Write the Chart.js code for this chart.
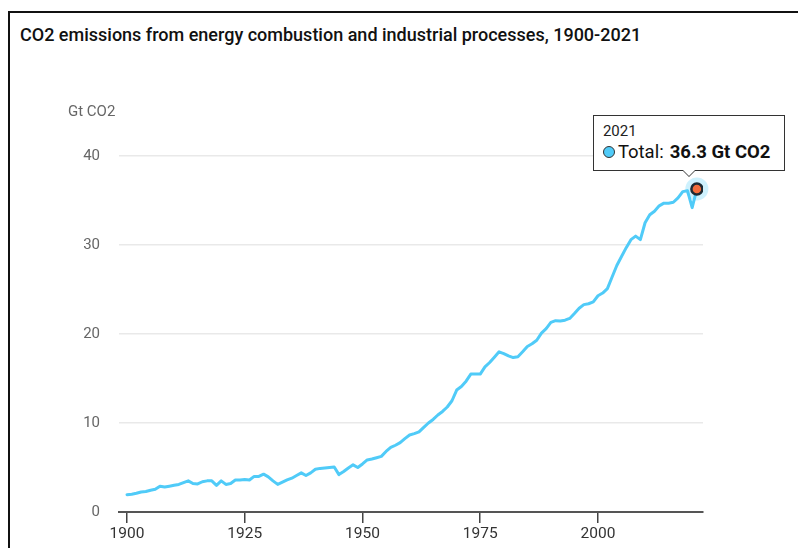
<!DOCTYPE html>
<html>
<head>
<meta charset="utf-8">
<script src="https://cdn.jsdelivr.net/npm/chart.js@4/dist/chart.umd.min.js"></script>
<style>
  html, body { margin: 0; padding: 0; background: #fff; }
  body { width: 798px; height: 548px; position: relative; overflow: hidden; font-family: Roboto, "Noto Sans", sans-serif; }
  #frame { position: absolute; left: 8px; top: 11px; width: 900px; height: 700px; border: 2px solid #111; box-sizing: border-box; }
  #title { position: absolute; left: 20px; top: 24px; font-size: 18px; font-weight: 500; color: #111; white-space: nowrap; }
  #chart { position: absolute; left: 0; top: 0; }
  #tip { position: absolute; display: none; background: #fff; border: 1px solid #333; padding: 6px 14px 6px 9px; white-space: nowrap; color: #111; }
  #tip .yr { font-size: 15px; line-height: 18px; color: #222; }
  #tip .row { font-size: 18.5px; line-height: 24px; display: flex; align-items: center; }
  #tip .dot { width: 10px; height: 10px; border-radius: 50%; border: 1.5px solid #333; margin-right: 3px; }
  #tip b { font-weight: 700; margin-left: 6px; }
  #tip .caret, #tip .caret2 { position: absolute; width: 0; height: 0; border-left: 7px solid transparent; border-right: 7px solid transparent; }
  #tip .caret { bottom: -7px; border-top: 7px solid #333; }
  #tip .caret2 { bottom: -5.6px; border-top: 6px solid #fff; margin-left: 1px; border-left-width: 6px; border-right-width: 6px; }
</style>
</head>
<body>
<div id="frame"></div>
<div id="title">CO2 emissions from energy combustion and industrial processes, 1900-2021</div>
<canvas id="chart" width="798" height="548"></canvas>
<div id="tip"></div>
<script>
// Annual totals, 1900-2021 (Gt CO2)
const firstYear = 1900;
const lastYear = 2021;
const years = Array.from({ length: lastYear - firstYear + 1 }, (_, i) => firstYear + i);
const emissions = [
  1.95, 2.0, 2.1, 2.25, 2.3, 2.45, 2.55, 2.9, 2.8, 2.9,
  3.0, 3.1, 3.3, 3.5, 3.2, 3.15, 3.4, 3.5, 3.5, 3.0,
  3.5, 3.1, 3.2, 3.6, 3.6, 3.65, 3.6, 4.0, 4.0, 4.25,
  3.95, 3.5, 3.1, 3.35, 3.6, 3.8, 4.1, 4.4, 4.1, 4.4,
  4.8, 4.9, 4.95, 5.0, 5.05, 4.2, 4.55, 4.95, 5.3, 5.0,
  5.4, 5.85, 5.95, 6.1, 6.25, 6.8, 7.25, 7.5, 7.8, 8.25,
  8.65, 8.8, 9.0, 9.5, 10.0, 10.4, 10.9, 11.3, 11.8, 12.5,
  13.7, 14.1, 14.7, 15.5, 15.5, 15.5, 16.3, 16.8, 17.4, 18.0,
  17.8, 17.55, 17.35, 17.45, 18.0, 18.6, 18.9, 19.3, 20.1, 20.6,
  21.3, 21.5, 21.45, 21.55, 21.75, 22.3, 22.9, 23.3, 23.4, 23.6,
  24.3, 24.6, 25.1, 26.4, 27.7, 28.7, 29.7, 30.6, 31.0, 30.6,
  32.5, 33.4, 33.8, 34.4, 34.7, 34.7, 34.8, 35.3, 36.0, 36.1,
  34.2, 36.3
];
const yearTicks = [1900, 1925, 1950, 1975, 2000];
const valueTicks = [0, 10, 20, 30, 40];
const seriesName = 'Total';
const unit = 'Gt CO2';

const lineBlue = '#50cbf8';
const fontFamily = 'Roboto, "Noto Sans", sans-serif';

// soft ring behind the highlighted point
const haloPlugin = {
  id: 'activeHalo',
  beforeDatasetsDraw(chart) {
    const ctx = chart.ctx;
    chart.getActiveElements().forEach(a => {
      ctx.save();
      ctx.beginPath();
      ctx.arc(a.element.x, a.element.y, 11.5, 0, Math.PI * 2);
      ctx.fillStyle = 'rgba(80, 203, 248, 0.28)';
      ctx.fill();
      ctx.restore();
    });
  }
};

// unit caption above the value axis
const unitLabelPlugin = {
  id: 'unitLabel',
  afterDraw(chart) {
    const y = chart.scales.y;
    const ctx = chart.ctx;
    ctx.save();
    ctx.font = '15px ' + fontFamily;
    ctx.fillStyle = '#666';
    ctx.textBaseline = 'middle';
    ctx.textAlign = 'left';
    ctx.fillText(unit, y.left + 68, y.top - 44);
    ctx.restore();
  }
};

function externalTooltip(context) {
  const { tooltip } = context;
  const el = document.getElementById('tip');
  if (tooltip.opacity === 0 || !tooltip.dataPoints || !tooltip.dataPoints.length) {
    el.style.display = 'none';
    return;
  }
  const dp = tooltip.dataPoints[0];
  el.innerHTML =
    '<div class="yr">' + dp.parsed.x + '</div>' +
    '<div class="row"><span class="dot" style="background:' + lineBlue + '"></span>' +
    seriesName + ':<b>' + dp.parsed.y.toFixed(1) + ' ' + unit + '</b></div>' +
    '<span class="caret"></span><span class="caret2"></span>';
  el.style.display = 'block';
  const h = el.offsetHeight;
  const left = tooltip.caretX - 104;
  const top = tooltip.caretY - 18 - h;
  el.style.left = left + 'px';
  el.style.top = top + 'px';
  const caretLeft = tooltip.caretX - 9 - left - 7;
  el.querySelector('.caret').style.left = caretLeft + 'px';
  el.querySelector('.caret2').style.left = caretLeft + 'px';
}

const chart = new Chart(document.getElementById('chart'), {
  type: 'line',
  data: {
    datasets: [{
      label: seriesName,
      data: years.map((yr, i) => ({ x: yr, y: emissions[i] })),
      borderColor: lineBlue,
      borderWidth: 3,
      borderJoinStyle: 'round',
      borderCapStyle: 'round',
      pointRadius: 0,
      pointHoverRadius: 5.5,
      pointHoverBorderWidth: 2.5,
      pointHoverBackgroundColor: '#f26b3a',
      pointHoverBorderColor: '#1d2a33',
      tension: 0,
      fill: false
    }]
  },
  options: {
    responsive: false,
    animation: false,
    events: [],
    layout: { padding: { top: 156, right: 95, bottom: 0, left: 0 } },
    plugins: {
      legend: { display: false },
      title: { display: false },
      tooltip: {
        enabled: false,
        external: externalTooltip
      }
    },
    scales: {
      x: {
        type: 'linear',
        min: 1898.3,
        max: 2022.3,
        afterBuildTicks: s => { s.ticks = yearTicks.map(v => ({ value: v })); },
        afterFit: s => { s.height = 36; },
        border: { display: true, color: '#555', width: 2 },
        grid: { drawOnChartArea: false, drawTicks: true, tickLength: 11, color: '#444', lineWidth: 1.5 },
        ticks: {
          color: '#333',
          padding: 2,
          maxRotation: 0,
          font: { family: fontFamily, size: 15.5 },
          callback: v => String(v)
        }
      },
      y: {
        min: 0,
        max: 40,
        afterBuildTicks: s => { s.ticks = valueTicks.map(v => ({ value: v })); },
        afterFit: s => { s.width = 119; },
        border: { display: false },
        grid: { drawTicks: false, color: '#e9e9e9', lineWidth: 1.5 },
        ticks: {
          color: '#666',
          padding: 19,
          font: { family: fontFamily, size: 15 },
          callback: v => String(v)
        }
      }
    }
  },
  plugins: [haloPlugin, unitLabelPlugin]
});

const lastIndex = emissions.length - 1;
chart.setActiveElements([{ datasetIndex: 0, index: lastIndex }]);
chart.tooltip.setActiveElements([{ datasetIndex: 0, index: lastIndex }], { x: 0, y: 0 });
chart.update();
</script>
</body>
</html>
